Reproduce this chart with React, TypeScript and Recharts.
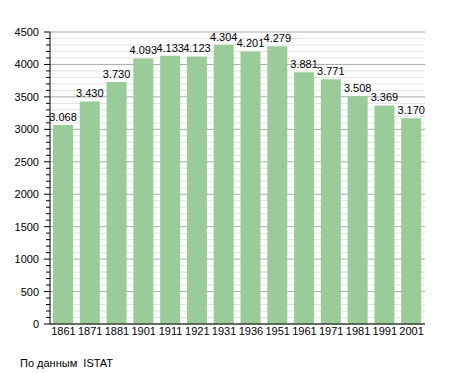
import { BarChart, Bar, XAxis, YAxis, CartesianGrid, LabelList } from 'recharts';

const years = ['1861', '1871', '1881', '1901', '1911', '1921', '1931', '1936', '1951', '1961', '1971', '1981', '1991', '2001'];
const population = [3068, 3430, 3730, 4093, 4133, 4123, 4304, 4201, 4279, 3881, 3771, 3508, 3369, 3170];
const yTicks = [0, 500, 1000, 1500, 2000, 2500, 3000, 3500, 4000, 4500];
const minorTicks: number[] = [];
for (let v = 100; v < 4500; v += 100) if (v % 500 !== 0) minorTicks.push(v);

const data = years.map((year, i) => ({ year, value: population[i] }));

const font = 'Liberation Sans, Arial, sans-serif';

const fmt = (v: number) => {
	const s = String(v);
	return s.length > 3 ? s.slice(0, s.length - 3) + '.' + s.slice(-3) : s;
};

// plot area: x 50..425, y 32..324
const yPos = (v: number) => 324 - (v / 4500) * 292;

const YTick = (props: any) => {
	const { y, payload } = props;
	return (
		<g>
			<line x1={44} x2={50} y1={y} y2={y} stroke="#000" />
			<text x={39} y={y + 4} textAnchor="end" fontSize={11} fontFamily={font} fill="#000">{payload.value}</text>
		</g>
	);
};

export default function App() {
	return (
		<div style={{ position: 'absolute', left: 0, top: 0, width: 455, height: 373, background: '#fff' }}>
			<BarChart width={455} height={373} data={data} margin={{ top: 32, right: 30, bottom: 29, left: 0 }} barSize={20}>
				<CartesianGrid vertical={false} stroke="#e2e2e2" horizontalValues={minorTicks} />
				<CartesianGrid vertical={false} stroke="#aaaaaa" horizontalValues={yTicks} />
				<XAxis dataKey="year" height={20} tickLine={false} axisLine={{ stroke: '#000' }}
					tick={{ fontSize: 11, fontFamily: font, fill: '#000' }} interval={0} tickMargin={-3} />
				<YAxis width={50} domain={[0, 4500]} ticks={yTicks} tickLine={false} axisLine={{ stroke: '#000' }} tick={<YTick />} interval={0} />
				<Bar dataKey="value" fill="#99cc99" isAnimationActive={false}>
					<LabelList dataKey="value" position="top" offset={4} formatter={(v: any) => fmt(v)}
						style={{ fontSize: 11, fontFamily: font, fill: '#000' }} />
				</Bar>
			</BarChart>
			<svg style={{ position: 'absolute', left: 0, top: 0 }} width={455} height={373} pointerEvents="none">
				{minorTicks.map(v => (
					<line key={v} x1={46} x2={50} y1={yPos(v)} y2={yPos(v)} stroke="#000" />
				))}
			</svg>
			<div style={{ position: 'absolute', left: 20, top: 357, fontSize: 11, fontFamily: font, color: '#000', whiteSpace: 'pre' }}>По данным  ISTAT</div>
		</div>
	);
}
